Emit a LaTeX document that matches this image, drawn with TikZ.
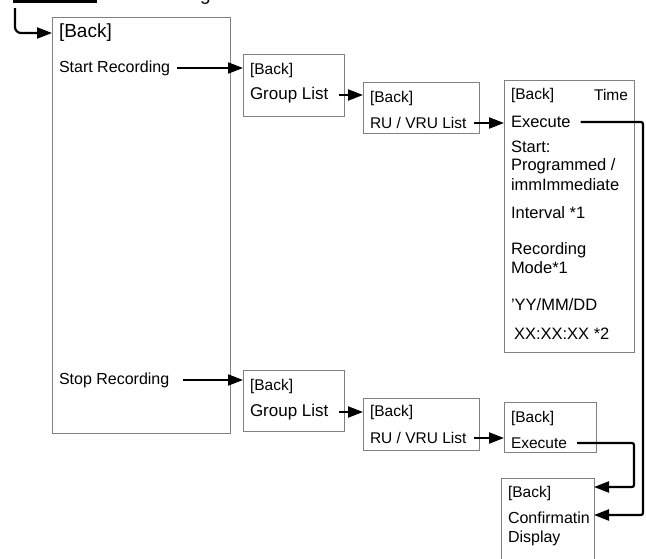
\documentclass[tikz,border=0pt]{standalone}
\usepackage{fontspec}
\setmainfont{Liberation Sans}
\usetikzlibrary{arrows.meta,positioning}

\begin{document}
\begin{tikzpicture}[x=1pt,y=-1pt,
  every node/.style={inner sep=0pt,outer sep=0pt},
  box/.style={draw=black!50,line width=0.8pt,anchor=north west},
  txt/.style={anchor=west,font=\fontsize{15.5}{18}\selectfont},
  big/.style={txt,font=\fontsize{16}{19}\selectfont},
  tline/.style={txt,font=\fontsize{16.5}{19}\selectfont},
  arr/.style={-{Triangle[length=15pt,width=11pt]},line width=2.2pt},
  link/.style={arr,rounded corners=2pt}]

  \clip (0,0) rectangle (646,558);

  % boxes
  \node[box,minimum width=178pt,minimum height=416pt] (menu) at (52,17) {};
  \node[box,minimum width=101pt,minimum height=62pt] (grpA) at (243,54) {};
  \node[box,minimum width=116pt,minimum height=51pt] (ruA) at (363,82) {};
  \node[box,minimum width=130pt,minimum height=272pt] (time) at (504,80) {};
  \node[box,minimum width=101pt,minimum height=61pt] (grpB) at (243,370) {};
  \node[box,minimum width=116pt,minimum height=52pt] (ruB) at (363,398) {};
  \node[box,minimum width=92pt,minimum height=50pt] (exec) at (504,402) {};
  \node[box,minimum width=93pt,minimum height=100pt] (conf) at (501,478) {};

  % top menu
  \node[txt,font=\fontsize{19}{22}\selectfont] (menuback) at (59,33) {[Back]};
  \node[big] (startrec) at (59,68) {Start Recording};
  \node[big] (stoprec) at (59,380) {Stop Recording};

  % start branch
  \node[txt] (grpAback) at (250,70) {[Back]};
  \node[txt,font=\fontsize{17}{20}\selectfont] (grpAlist) at (250,95) {Group List};
  \node[txt] (ruAback) at (370,98) {[Back]};
  \node[txt] (ruAlist) at (370,123) {RU / VRU List};
  \node[txt] (timeback) at (511,95) {[Back]};
  \node[txt,anchor=east] (timelbl) at (628,95) {Time};
  \node[tline] (timeexec) at (511,122) {Execute};
  \node[tline] (tstart) at (511,147) {Start:};
  \node[tline] (tprog) at (511,166) {Programmed /};
  \node[tline] (timm) at (511,185) {immImmediate};
  \node[tline] (tint) at (511,213) {Interval *1};
  \node[tline] (trec) at (511,250) {Recording};
  \node[tline] (tmode) at (511,268) {Mode*1};
  \node[tline] (tdate) at (511,305) {'YY/MM/DD};
  \node[tline] (thour) at (514,334) {XX:XX:XX *2};

  % stop branch
  \node[txt] (grpBback) at (250,386) {[Back]};
  \node[txt,font=\fontsize{17}{20}\selectfont] (grpBlist) at (250,412) {Group List};
  \node[txt] (ruBback) at (370,412) {[Back]};
  \node[txt] (ruBlist) at (370,438) {RU / VRU List};
  \node[txt] (execback) at (511,418) {[Back]};
  \node[txt] (execgo) at (511,443) {Execute};
  \node[txt] (confback) at (508,493) {[Back]};
  \node[big] (confmsg) at (508,518) {Confirmatin};
  \node[big] (confdisp) at (508,538) {Display};

  % cut-off heading
  \node[anchor=base west,font=\fontsize{19}{22}\selectfont] (headg) at (200,0) {g};
  \coordinate (barl) at (13,1.5);
  \coordinate (barr) at (97,1.5);
  \draw[line width=3pt] (barl) -- (barr);
  \coordinate (topend) at (15,8);

  % rails and inputs
  \coordinate (railA) at (643,0);
  \coordinate (railB) at (634,0);
  \coordinate[yshift=-9pt] (inB) at (conf.north east);
  \coordinate[yshift=-37pt] (inA) at (conf.north east);

  \draw[arr,rounded corners=6pt] (topend) |- (menu.west |- menuback);
  \draw[arr,shorten <=7pt] (startrec.east) -- (startrec.east -| grpA.west);
  \draw[arr,shorten <=11pt] (grpAlist.east) -- (grpAlist.east -| ruA.west);
  \draw[arr,shorten <=8pt] (ruAlist.east) -- (ruAlist.east -| time.west);
  \draw[arr,shorten <=14pt] (stoprec.east) -- (stoprec.east -| grpB.west);
  \draw[arr,shorten <=11pt] (grpBlist.east) -- (grpBlist.east -| ruB.west);
  \draw[arr,shorten <=8pt] (ruBlist.east) -- (ruBlist.east -| exec.west);
  \draw[link,shorten <=10pt] (timeexec.east) -| (railA |- inA) -- (inA);
  \draw[link,shorten <=10pt] (execgo.east) -| (railB |- inB) -- (inB);
\end{tikzpicture}
\end{document}
